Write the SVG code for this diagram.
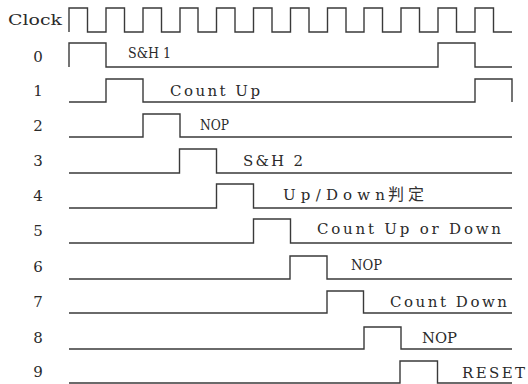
<svg xmlns="http://www.w3.org/2000/svg" width="528" height="384" viewBox="0 0 528 384" font-family="DejaVu Serif, Liberation Serif, serif">
<style>
.w{fill:none;stroke:#3a3a3a;stroke-width:1.4;stroke-linejoin:miter}
.t{font-size:15px;fill:#2a2a2a}
.n{font-size:15px;fill:#2a2a2a;text-anchor:middle}
</style>
<rect width="528" height="384" fill="#fff"/>
<g id="labels">
<text class="t" x="8" y="25" font-size="16" textLength="54" lengthAdjust="spacingAndGlyphs">Clock</text>
<text class="n" x="38" y="62">0</text>
<text class="n" x="38" y="96">1</text>
<text class="n" x="38" y="131">2</text>
<text class="n" x="38" y="166">3</text>
<text class="n" x="38" y="201">4</text>
<text class="n" x="38" y="236">5</text>
<text class="n" x="38" y="272">6</text>
<text class="n" x="38" y="307">7</text>
<text class="n" x="38" y="343">8</text>
<text class="n" x="38" y="377">9</text>
</g>
<g id="connectors">
<path id="clock" class="w" d="M69,32 V8 H87.5 V32 H106 V8 H124.5 V32 H143 V8 H161.5 V32 H180 V8 H198 V32 H216.5 V8 H235 V32 H253.5 V8 H272 V32 H290.5 V8 H309 V32 H327.5 V8 H346 V32 H364 V8 H382.5 V32 H401 V8 H419.5 V32 H438 V8 H456.5 V32 H475 V8 H493.5 V32 H512"/>
<path id="s0" class="w" d="M69,67 V43 H106 V67 H438 V43 H475 V67 H512"/>
<path id="s1" class="w" d="M69,102 H106 V79 H143 V102 H475 V79 H512 V102"/>
<path id="s2" class="w" d="M69,137 H143 V114 H180 V137 H512"/>
<path id="s3" class="w" d="M69,173 H179.5 V149 H216.5 V173 H512"/>
<path id="s4" class="w" d="M69,208 H216.5 V184 H253.5 V208 H512"/>
<path id="s5" class="w" d="M69,243 H253.5 V219 H290.5 V243 H512"/>
<path id="s6" class="w" d="M69,279 H290 V256 H327 V279 H512"/>
<path id="s7" class="w" d="M69,313 H327 V291 H363.5 V313 H512"/>
<path id="s8" class="w" d="M69,349 H364 V327 H401 V349 H512"/>
<path id="s9" class="w" d="M69,383 H400 V361 H437.5 V383 H512"/>
</g>
<g id="n0"><text class="t" x="128" y="58" textLength="43" lengthAdjust="spacingAndGlyphs">S&amp;H 1</text></g>
<g id="n1"><text class="t" x="170" y="96" textLength="90" lengthAdjust="spacing">Count Up</text></g>
<g id="n2"><text class="t" x="200" y="130" textLength="29" lengthAdjust="spacingAndGlyphs">NOP</text></g>
<g id="n3"><text class="t" x="243" y="166" textLength="60" lengthAdjust="spacing">S&amp;H 2</text></g>
<g id="n4"><text class="t" x="283" y="200"><tspan textLength="102" lengthAdjust="spacing">Up/Down</tspan><tspan x="388" font-family="Noto Sans CJK SC, Noto Sans CJK JP, sans-serif" font-size="16" fill="#333" textLength="36" lengthAdjust="spacing">判定</tspan></text></g>
<g id="n5"><text class="t" x="317" y="234" textLength="184" lengthAdjust="spacing">Count Up or Down</text></g>
<g id="n6"><text class="t" x="351" y="270" textLength="31" lengthAdjust="spacingAndGlyphs">NOP</text></g>
<g id="n7"><text class="t" x="390" y="307" textLength="117" lengthAdjust="spacing">Count Down</text></g>
<g id="n8"><text class="t" x="422" y="343" textLength="35" lengthAdjust="spacingAndGlyphs">NOP</text></g>
<g id="n9"><text class="t" x="462" y="378" textLength="63" lengthAdjust="spacing">RESET</text></g>
</svg>
